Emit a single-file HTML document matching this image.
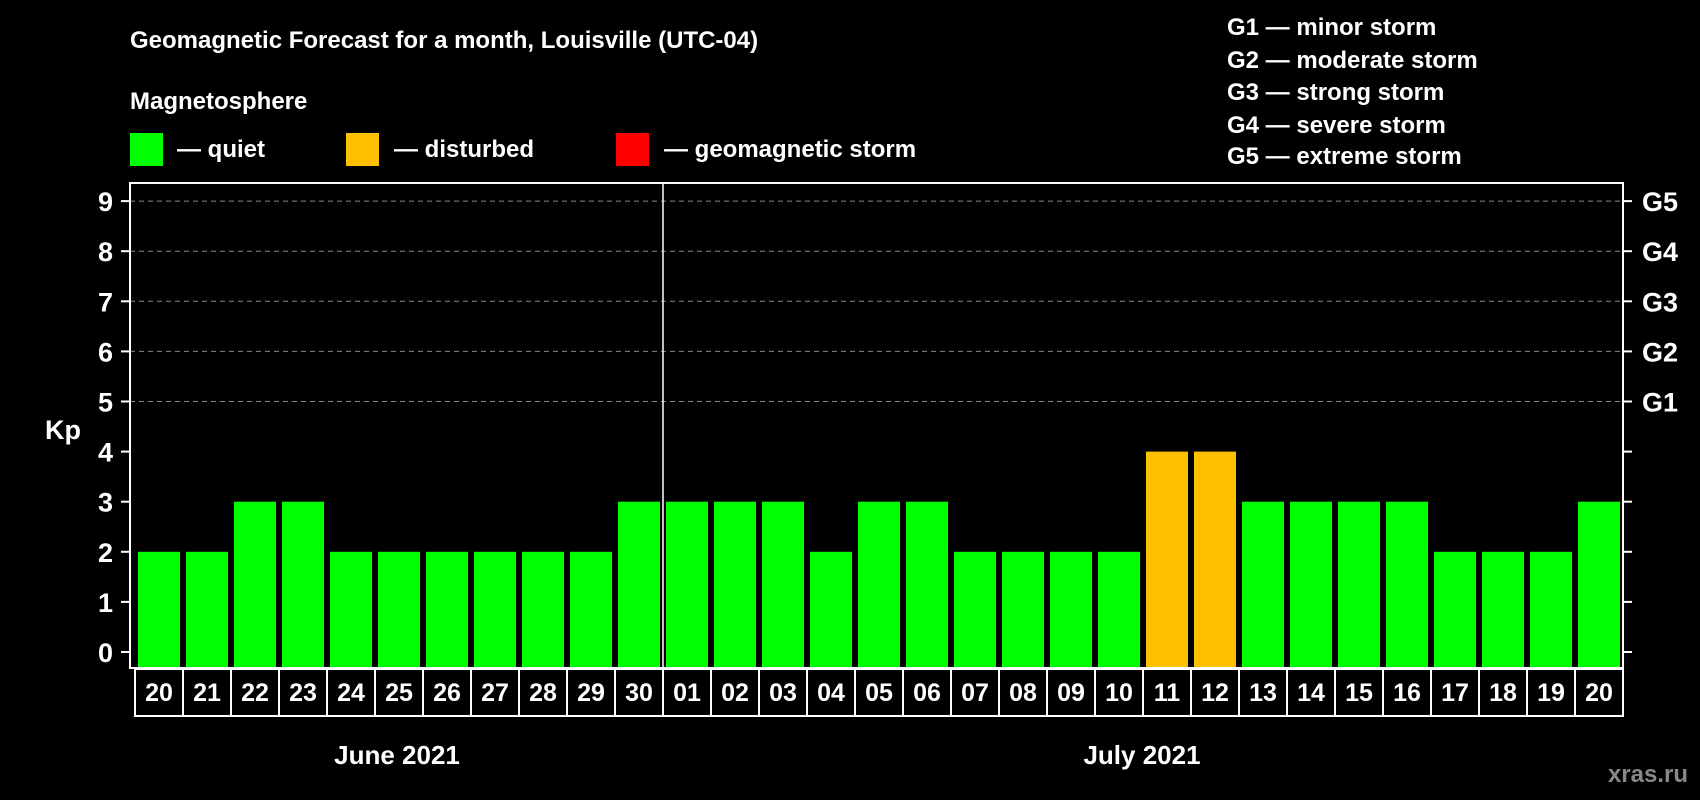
<!DOCTYPE html>
<html><head><meta charset="utf-8"><style>
html,body{margin:0;padding:0;background:#000;}
svg{display:block;font-family:"Liberation Sans",Arial,sans-serif;font-weight:bold;}
</style></head><body>
<svg id="chart" width="1700" height="800" viewBox="0 0 1700 800">
<text x="130" y="48" fill="#fff" font-size="24">Geomagnetic Forecast for a month, Louisville (UTC-04)</text>
<text x="130" y="109" fill="#fff" font-size="24">Magnetosphere</text>
<g><rect x="130" y="133" width="33" height="33" fill="#00ff00"/><text x="177" y="157" fill="#fff" font-size="24">— quiet</text></g>
<g><rect x="346" y="133" width="33" height="33" fill="#ffc000"/><text x="394" y="157" fill="#fff" font-size="24">— disturbed</text></g>
<g><rect x="616" y="133" width="33" height="33" fill="#ff0000"/><text x="664" y="157" fill="#fff" font-size="24">— geomagnetic storm</text></g>
<g fill="#fff" font-size="24">
<text x="1227" y="35">G1 — minor storm</text>
<text x="1227" y="68">G2 — moderate storm</text>
<text x="1227" y="100">G3 — strong storm</text>
<text x="1227" y="133">G4 — severe storm</text>
<text x="1227" y="164">G5 — extreme storm</text>
</g>
<text x="63" y="439" fill="#fff" font-size="27" text-anchor="middle">Kp</text>
<g id="grid"></g><g id="bars"></g><g id="axes"></g>
<text x="397" y="764" fill="#fff" font-size="26" text-anchor="middle">June 2021</text>
<text x="1142" y="764" fill="#fff" font-size="26" text-anchor="middle">July 2021</text>
<text x="1688" y="782" fill="#888" font-size="24" text-anchor="end">xras.ru</text>
</svg>
<script>
const days = ["20","21","22","23","24","25","26","27","28","29","30","01","02","03","04","05","06","07","08","09","10","11","12","13","14","15","16","17","18","19","20"];
const kpValues = [2,2,3,3,2,2,2,2,2,2,3,3,3,3,2,3,3,2,2,2,2,4,4,3,3,3,3,2,2,2,3];
const yTicks = [0,1,2,3,4,5,6,7,8,9];
const gLabels = ["G1","G2","G3","G4","G5"];
const gLevels = [5,6,7,8,9];
const monthBreakIndex = 11;
const NS="http://www.w3.org/2000/svg";
const L=130,R=1623,T=183,B=668;
function y(v){return 652-v*50.1;}
function x(i){return 138+i*48;}
function mk(t,a,p){const e=document.createElementNS(NS,t);for(const k in a)e.setAttribute(k,a[k]);p.appendChild(e);return e;}
const grid=document.getElementById('grid'),bars=document.getElementById('bars'),axes=document.getElementById('axes');
gLevels.forEach(v=>{
 const g=mk('line',{x1:L,x2:R,y1:y(v),y2:y(v),stroke:'#888','stroke-width':1,'stroke-dasharray':'5,4'},grid);
 
 
});
kpValues.forEach((v,i)=>{
 const c=v>=5?'#ff0000':(v>=4?'#ffc000':'#00ff00');
 const r=mk('rect',{x:x(i),y:y(v),width:42,height:y(0)+16-y(v),fill:c},bars);
 
 
});
const bx=x(monthBreakIndex)-3;
const ml=mk('line',{x1:bx,x2:bx,y1:T,y2:B,stroke:'#fff','stroke-width':1.5},axes);


const frame=mk('rect',{x:L,y:T,width:R-L,height:B-T,fill:'none',stroke:'#fff','stroke-width':2},axes);


yTicks.forEach(v=>{
 mk('line',{x1:L-9,x2:L,y1:y(v),y2:y(v),stroke:'#fff','stroke-width':2},axes);
 mk('line',{x1:R,x2:R+9,y1:y(v),y2:y(v),stroke:'#fff','stroke-width':2},axes);
 const t=mk('text',{x:113,y:y(v)+10,fill:'#fff','font-size':27,'text-anchor':'end'},axes);
 t.textContent=v;
 
 
});
gLabels.forEach((g,i)=>{
 const t=mk('text',{x:1642,y:y(gLevels[i])+10,fill:'#fff','font-size':27},axes);
 t.textContent=g;
 
 
});
days.forEach((d,i)=>{
 const cx=x(i)-3;
 const c=mk('rect',{x:cx,y:B+1,width:48,height:47,fill:'#000',stroke:'#fff','stroke-width':2},axes);
 
 
 const t=mk('text',{x:cx+24,y:B+33,fill:'#fff','font-size':25,'text-anchor':'middle'},axes);
 t.textContent=d;
 
 
});
</script>
</body></html>
